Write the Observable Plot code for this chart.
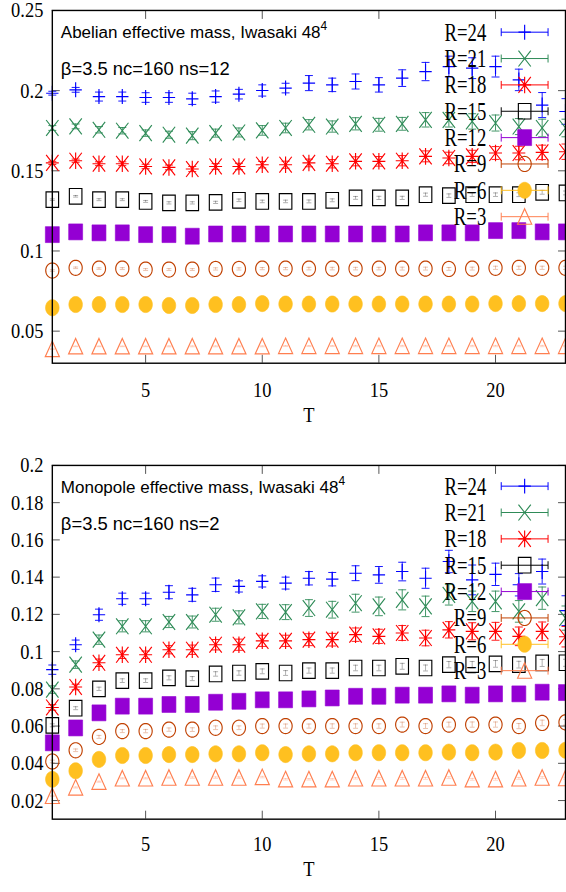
<!DOCTYPE html>
<html><head><meta charset="utf-8">
<script src="https://cdn.jsdelivr.net/npm/d3@7"></script>
<script src="https://cdn.jsdelivr.net/npm/@observablehq/plot@0.6"></script>
<style>
html,body{margin:0;padding:0;background:#fff;overflow:hidden;width:566px;height:892px;}
#chart{width:566px;overflow:hidden;}
#chart svg{display:block;overflow:visible;}
</style></head>
<body><div id="chart"></div>
<script>
// ---------- data ----------
const tValues = [1,2,3,4,5,6,7,8,9,10,11,12,13,14,15,16,17,18,19,20,21,22,23];
const seriesLabels = ["R=24","R=21","R=18","R=15","R=12","R=9","R=6","R=3"];
const xTicks = [5,10,15,20];
const xTickLabels = ["5","10","15","20"];
const xLabel = "T";

const abelianTitle = "Abelian effective mass, Iwasaki 48";
const abelianSubtitle = "β=3.5 nc=160 ns=12";
const abelianYTicks = [0.05,0.1,0.15,0.2,0.25];
const abelianYTickLabels = ["0.05","0.1","0.15","0.2","0.25"];
const abelianYDomain = [0.03,0.25];

const monopoleTitle = "Monopole effective mass, Iwasaki 48";
const monopoleSubtitle = "β=3.5 nc=160 ns=2";
const monopoleYTicks = [0.02,0.04,0.06,0.08,0.1,0.12,0.14,0.16,0.18,0.2];
const monopoleYTickLabels = ["0.02","0.04","0.06","0.08","0.1","0.12","0.14","0.16","0.18","0.2"];
const monopoleYDomain = [0.01,0.2];
const xDomain = [1,23];

// Abelian effective mass
const abR24 = [0.1984,0.2005,0.1963,0.1963,0.1957,0.1957,0.1949,0.1963,0.1978,0.2001,0.2016,0.2047,0.2036,0.2057,0.2036,0.2078,0.2119,0.2150,0.2140,0.2150,0.2067,0.1910,0.1870];
const abR24Err = [0.0012,0.0015,0.0028,0.0028,0.003,0.003,0.0035,0.0035,0.003,0.0035,0.003,0.0047,0.0042,0.0047,0.0045,0.0052,0.0057,0.0065,0.0065,0.0065,0.0067,0.0078,0.008];
const abR21 = [0.1767,0.1777,0.1756,0.1750,0.1735,0.1725,0.1719,0.1735,0.1739,0.1752,0.1767,0.1787,0.1776,0.1793,0.1787,0.1793,0.1818,0.1818,0.1808,0.1798,0.1776,0.1767,0.1767];
const abR21Err = [0.0015,0.0015,0.002,0.002,0.002,0.0022,0.0025,0.0025,0.0028,0.003,0.003,0.0032,0.0035,0.0038,0.004,0.004,0.0045,0.0045,0.0048,0.005,0.005,0.0055,0.0055];
const abR18 = [0.1549,0.1563,0.1544,0.1544,0.1527,0.1521,0.1511,0.1527,0.1527,0.1538,0.1538,0.1549,0.1544,0.1559,0.1559,0.1563,0.1590,0.1580,0.1590,0.1611,0.1611,0.1615,0.1619];
const abR18Err = [0.001,0.001,0.0012,0.0012,0.0014,0.0015,0.0016,0.0018,0.002,0.002,0.0022,0.0024,0.0026,0.0028,0.003,0.0032,0.0034,0.0036,0.0038,0.004,0.0042,0.0045,0.0048];
const abR15 = [0.1320,0.1341,0.1320,0.1320,0.1309,0.1300,0.1300,0.1303,0.1316,0.1309,0.1309,0.1309,0.1316,0.1331,0.1331,0.1331,0.1351,0.1345,0.1351,0.1351,0.1351,0.1366,0.1362];
const abR15Err = [0.0005,0.0005,0.0006,0.0006,0.0006,0.0007,0.0007,0.0007,0.0008,0.0008,0.0008,0.0009,0.0009,0.0009,0.001,0.001,0.001,0.0011,0.0011,0.0011,0.0012,0.0012,0.0012];
const abR12 = [0.1102,0.1119,0.1113,0.1113,0.1102,0.1102,0.1092,0.1106,0.1106,0.1106,0.1106,0.1106,0.1106,0.1106,0.1106,0.1106,0.1113,0.1113,0.1113,0.1127,0.1127,0.1119,0.1119];
const abR12Err = [0.0004,0.0004,0.0005,0.0005,0.0005,0.0006,0.0006,0.0006,0.0007,0.0007,0.0007,0.0008,0.0008,0.0008,0.0009,0.0009,0.001,0.001,0.001,0.0011,0.0011,0.0012,0.0012];
const abR9 = [0.0878,0.0895,0.0890,0.0890,0.0884,0.0884,0.0884,0.0888,0.0888,0.0890,0.0890,0.0890,0.0890,0.0890,0.0890,0.0890,0.0890,0.0888,0.0890,0.0895,0.0895,0.0895,0.0895];
const abR9Err = [0.0005,0.0005,0.0005,0.0006,0.0006,0.0006,0.0006,0.0007,0.0007,0.0007,0.0007,0.0008,0.0008,0.0008,0.0008,0.0009,0.0009,0.0009,0.0009,0.001,0.001,0.001,0.001];
const abR6 = [0.0646,0.0666,0.0666,0.0666,0.0666,0.0660,0.0660,0.0666,0.0666,0.0672,0.0669,0.0669,0.0669,0.0669,0.0669,0.0669,0.0669,0.0669,0.0669,0.0672,0.0672,0.0672,0.0672];
const abR6Err = [0.0003,0.0003,0.0003,0.0004,0.0004,0.0004,0.0004,0.0005,0.0005,0.0005,0.0005,0.0005,0.0006,0.0006,0.0006,0.0006,0.0007,0.0007,0.0007,0.0007,0.0008,0.0008,0.0008];
const abR3 = [0.0388,0.0405,0.0405,0.0405,0.0405,0.0405,0.0405,0.0405,0.0405,0.0405,0.0407,0.0407,0.0407,0.0407,0.0407,0.0407,0.0407,0.0407,0.0407,0.0407,0.0407,0.0407,0.0407];
const abR3Err = [0.0002,0.0002,0.0002,0.0002,0.0002,0.0003,0.0003,0.0003,0.0003,0.0003,0.0003,0.0003,0.0003,0.0004,0.0004,0.0004,0.0004,0.0004,0.0004,0.0004,0.0004,0.0004,0.0004];

// Monopole effective mass
const moR24 = [0.0903,0.1037,0.1198,0.1284,0.1284,0.1319,0.1305,0.1359,0.1350,0.1377,0.1368,0.1394,0.1389,0.1421,0.1412,0.1430,0.1394,0.1484,0.1385,0.1415,0.1359,0.1430,0.1220];
const moR24Err = [0.0025,0.0025,0.003,0.003,0.003,0.0035,0.0035,0.0036,0.003,0.003,0.0032,0.0036,0.0036,0.004,0.0045,0.005,0.0054,0.006,0.008,0.006,0.006,0.0067,0.008];
const moR21 = [0.0796,0.0930,0.1064,0.1136,0.1136,0.1159,0.1159,0.1198,0.1184,0.1216,0.1212,0.1234,0.1225,0.1260,0.1243,0.1278,0.1243,0.1305,0.1270,0.1270,0.1216,0.1287,0.1180];
const moR21Err = [0.002,0.002,0.0025,0.003,0.003,0.003,0.0032,0.0035,0.0035,0.0038,0.004,0.0045,0.0045,0.0048,0.005,0.0054,0.0055,0.0055,0.0055,0.0055,0.0058,0.006,0.0065];
const moR18 = [0.0700,0.0810,0.0940,0.0983,0.0983,0.1010,0.1010,0.1037,0.1037,0.1058,0.1058,0.1064,0.1064,0.1091,0.1082,0.1100,0.1073,0.1117,0.1109,0.1109,0.1082,0.1109,0.1080];
const moR18Err = [0.0015,0.0015,0.002,0.002,0.002,0.0022,0.0025,0.0028,0.003,0.003,0.003,0.0032,0.0034,0.0036,0.0038,0.004,0.0042,0.0044,0.0046,0.0048,0.005,0.005,0.0055];
const moR15 = [0.0604,0.0696,0.0800,0.0844,0.0844,0.0859,0.0855,0.0880,0.0885,0.0894,0.0885,0.0898,0.0898,0.0912,0.0912,0.0921,0.0912,0.0930,0.0930,0.0934,0.0930,0.0939,0.0940];
const moR15Err = [0.0008,0.0008,0.0009,0.001,0.001,0.0011,0.0011,0.0012,0.0012,0.0013,0.0013,0.0014,0.0014,0.0015,0.0015,0.0016,0.0016,0.0017,0.0017,0.0018,0.0018,0.0019,0.0019];
const moR12 = [0.0510,0.0590,0.0671,0.0707,0.0707,0.0716,0.0716,0.0728,0.0733,0.0741,0.0741,0.0746,0.0751,0.0760,0.0760,0.0766,0.0766,0.0773,0.0766,0.0773,0.0773,0.0782,0.0780];
const moR12Err = [0.0006,0.0006,0.0007,0.0008,0.0008,0.0009,0.0009,0.001,0.001,0.0011,0.0011,0.0012,0.0012,0.0013,0.0013,0.0014,0.0014,0.0015,0.0015,0.0016,0.0016,0.0017,0.0017];
const moR9 = [0.0410,0.0470,0.0542,0.0573,0.0573,0.0581,0.0581,0.0591,0.0591,0.0600,0.0600,0.0600,0.0600,0.0600,0.0600,0.0608,0.0600,0.0608,0.0608,0.0608,0.0600,0.0617,0.0620];
const moR9Err = [0.0007,0.0007,0.0008,0.0008,0.0009,0.0009,0.001,0.001,0.001,0.0011,0.0011,0.0011,0.0012,0.0012,0.0012,0.0013,0.0013,0.0013,0.0014,0.0014,0.0014,0.0015,0.0015];
const moR6 = [0.0314,0.0360,0.0421,0.0442,0.0442,0.0447,0.0447,0.0451,0.0451,0.0457,0.0447,0.0451,0.0451,0.0457,0.0457,0.0457,0.0457,0.0460,0.0457,0.0460,0.0469,0.0469,0.0470];
const moR6Err = [0.0004,0.0004,0.0004,0.0005,0.0005,0.0005,0.0005,0.0006,0.0006,0.0006,0.0006,0.0007,0.0007,0.0007,0.0007,0.0008,0.0008,0.0008,0.0008,0.0009,0.0009,0.0009,0.0009];
const moR3 = [0.0225,0.0270,0.0301,0.0319,0.0319,0.0323,0.0323,0.0323,0.0323,0.0326,0.0314,0.0314,0.0314,0.0319,0.0319,0.0319,0.0319,0.0323,0.0314,0.0314,0.0319,0.0323,0.0320];
const moR3Err = [0.0003,0.0003,0.0003,0.0003,0.0003,0.0003,0.0004,0.0004,0.0004,0.0004,0.0004,0.0004,0.0004,0.0004,0.0005,0.0005,0.0005,0.0005,0.0005,0.0005,0.0005,0.0005,0.0005];

// ---------- styles ----------
const seriesColors = ["#0000ff","#2e8b57","#ff0000","#000000","#9400d3","#c04000","#ffc020","#ff7f50"];

function ellipse(rx, ry) {
  return {draw(c) {
    const n = 40;
    c.moveTo(rx, 0);
    for (let k = 1; k < n; k++) { const a = 2*Math.PI*k/n; c.lineTo(rx*Math.cos(a), ry*Math.sin(a)); }
    c.closePath();
  }};
}
function rect(hw, hh) {
  return {draw(c) { c.moveTo(-hw,-hh); c.lineTo(hw,-hh); c.lineTo(hw,hh); c.lineTo(-hw,hh); c.closePath(); }};
}
const symPlus = {draw(c){ c.moveTo(-6.2,0); c.lineTo(6.2,0); c.moveTo(0,-7.5); c.lineTo(0,7.5); }};
const symCross = {draw(c){ c.moveTo(-6.2,-8); c.lineTo(6.2,8); c.moveTo(-6.2,8); c.lineTo(6.2,-8); }};
const symStar = {draw(c){ c.moveTo(-6.5,0); c.lineTo(6.5,0); c.moveTo(0,-8.3); c.lineTo(0,8.3); c.moveTo(-6.2,-8); c.lineTo(6.2,8); c.moveTo(-6.2,8); c.lineTo(6.2,-8); }};
const symTriangle = {draw(c){ c.moveTo(0,-8); c.lineTo(7.1,7.6); c.lineTo(-7.1,7.6); c.closePath(); }};
const symCap = {draw(c){ c.moveTo(-4,0); c.lineTo(4,0); }};
const symCapSmall = {draw(c){ c.moveTo(-2.5,0); c.lineTo(2.5,0); }};
const seriesSymbols = [
  {symbol: symPlus, filled: false, bar: 1},
  {symbol: symCross, filled: false, bar: 1},
  {symbol: symStar, filled: false, bar: 1},
  {symbol: rect(6.3,7.8), filled: false, bar: 0.35},
  {symbol: rect(7,8), filled: true, bar: 0.35},
  {symbol: ellipse(6.6,7.6), filled: false, bar: 0.35},
  {symbol: ellipse(6.8,8.1), filled: true, bar: 0.35},
  {symbol: symTriangle, filled: false, bar: 0.35}
];

function buildRows(valueArrays, errArrays) {
  return valueArrays.map((vals, s) => vals.map((v, i) => ({T: tValues[i], v, e: errArrays[s][i], s})));
}

function seriesMarks(rowsBySeries) {
  const marks = [];
  rowsBySeries.forEach((rows, s) => {
    const color = seriesColors[s];
    const sym = seriesSymbols[s];
    const cap = sym.bar < 1 ? symCapSmall : symCap;
    marks.push(Plot.ruleX(rows, {x: "T", y1: d => d.v - d.e, y2: d => d.v + d.e, stroke: color, strokeWidth: 0.9, strokeOpacity: sym.bar}));
    marks.push(Plot.dot(rows, {x: "T", y: d => d.v - d.e, symbol: cap, stroke: color, strokeWidth: 0.9, strokeOpacity: sym.bar}));
    marks.push(Plot.dot(rows, {x: "T", y: d => d.v + d.e, symbol: cap, stroke: color, strokeWidth: 0.9, strokeOpacity: sym.bar}));
    if (sym.filled) {
      marks.push(Plot.dot(rows, {x: "T", y: "v", symbol: sym.symbol, fill: color, stroke: color, strokeWidth: 0.6}));
    } else {
      marks.push(Plot.dot(rows, {x: "T", y: "v", symbol: sym.symbol, fill: "none", stroke: color, strokeWidth: 1.15}));
    }
  });
  return marks;
}

function makePanel(opts) {
  const xLabelMap = new Map(xTicks.map((t, i) => [t, xTickLabels[i]]));
  const yLabelMap = new Map(opts.yTicks.map((t, i) => [t, opts.yTickLabels[i]]));
  const svg = Plot.plot({
    width: 568,
    height: 446,
    marginLeft: 52,
    marginRight: 1,
    marginTop: opts.marginTop,
    marginBottom: opts.marginBottom,
    style: {fontFamily: "'Liberation Serif', serif", fontSize: "18.5px", background: "#fff", color: "#000"},
    x: {domain: xDomain},
    y: {domain: opts.yDomain},
    marks: [
      Plot.axisX({anchor: "bottom", ticks: xTicks, tickSize: -8, tickFormat: () => "", label: null, stroke: "#555"}),
      Plot.axisX({anchor: "top", ticks: xTicks, tickSize: -8, tickFormat: () => "", label: null, stroke: "#555"}),
      Plot.axisY({anchor: "left", ticks: opts.yTicks, tickSize: -8, tickFormat: () => "", label: null, stroke: "#555"}),
      Plot.axisY({anchor: "right", ticks: opts.yTicks, tickSize: -8, tickFormat: () => "", label: null, stroke: "#555"}),
      Plot.axisX({anchor: "bottom", ticks: xTicks, tickSize: 0, tickPadding: opts.xTickPadding, tickFormat: d => xLabelMap.get(d), label: null}),
      Plot.axisY({anchor: "left", ticks: opts.yTicks, tickSize: 0, tickPadding: 9, tickFormat: d => yLabelMap.get(d), label: null}),
      Plot.text([xLabel], {frameAnchor: "bottom", text: d => d, dy: opts.xLabelDy}),
      ...seriesMarks(opts.rows),
      Plot.frame({stroke: "#000", strokeWidth: 1.4})
    ]
  });
  // slightly taller serif glyphs as in the reference
  d3.select(svg).selectAll("text").each(function() {
    const t = d3.select(this);
    const tr = t.attr("transform");
    if (tr) t.attr("transform", tr + " scale(1,1.18)");
  });
  const top = opts.marginTop;
  const right = 568 - 1;
  const left = 52;
  const root = d3.select(svg);
  // title & subtitle
  const title = root.append("text")
    .attr("x", left + 9).attr("y", top + 28.3).attr("text-anchor", "start")
    .attr("font-family", "'Liberation Sans', Arial, sans-serif").attr("font-size", 17.1).attr("fill", "#000");
  title.append("tspan").text(opts.title);
  title.append("tspan").attr("dy", -8.3).attr("font-size", 12).text("4");
  root.append("text")
    .attr("x", left + 9).attr("y", top + 65).attr("text-anchor", "start")
    .attr("font-family", "'Liberation Sans', Arial, sans-serif").attr("font-size", 18.5).attr("fill", "#000")
    .text(opts.subtitle);
  // key
  const key = root.append("g");
  seriesLabels.forEach((lab, i) => {
    const y = top + opts.keyTop + i * 26.45;
    const color = seriesColors[i];
    key.append("text")
      .attr("transform", `translate(${right - 79},${y}) scale(1,1.3)`)
      .attr("text-anchor", "end").attr("dy", "0.35em")
      .attr("font-family", "'Liberation Serif', serif").attr("font-size", 18.8).attr("fill", "#000")
      .text(lab);
    const x1 = right - 64, x2 = right - 17, xm = (x1 + x2) / 2;
    key.append("path")
      .attr("d", `M${x1},${y}H${x2}M${x1},${y-4}V${y+4}M${x2},${y-4}V${y+4}`)
      .attr("stroke", color).attr("stroke-width", 1).attr("fill", "none");
    const sym = seriesSymbols[i];
    key.append("path")
      .attr("d", d3.symbol(sym.symbol)())
      .attr("transform", `translate(${xm},${y})`)
      .attr("fill", sym.filled ? color : "none")
      .attr("stroke", color).attr("stroke-width", sym.filled ? 0.6 : 1.15);
  });
  return svg;
}

const abelianRows = buildRows(
  [abR24, abR21, abR18, abR15, abR12, abR9, abR6, abR3],
  [abR24Err, abR21Err, abR18Err, abR15Err, abR12Err, abR9Err, abR6Err, abR3Err]);
const monopoleRows = buildRows(
  [moR24, moR21, moR18, moR15, moR12, moR9, moR6, moR3],
  [moR24Err, moR21Err, moR18Err, moR15Err, moR12Err, moR9Err, moR6Err, moR3Err]);

const chart = document.getElementById("chart");
chart.appendChild(makePanel({
  rows: abelianRows, yDomain: abelianYDomain, yTicks: abelianYTicks, yTickLabels: abelianYTickLabels,
  title: abelianTitle, subtitle: abelianSubtitle,
  marginTop: 10, marginBottom: 82, xTickPadding: 18, xLabelDy: 58.5, keyTop: 22.3
}));
chart.appendChild(makePanel({
  rows: monopoleRows, yDomain: monopoleYDomain, yTicks: monopoleYTicks, yTickLabels: monopoleYTickLabels,
  title: monopoleTitle, subtitle: monopoleSubtitle,
  marginTop: 21, marginBottom: 70, xTickPadding: 16.5, xLabelDy: 57, keyTop: 21.3
}));
</script>
</body></html>
